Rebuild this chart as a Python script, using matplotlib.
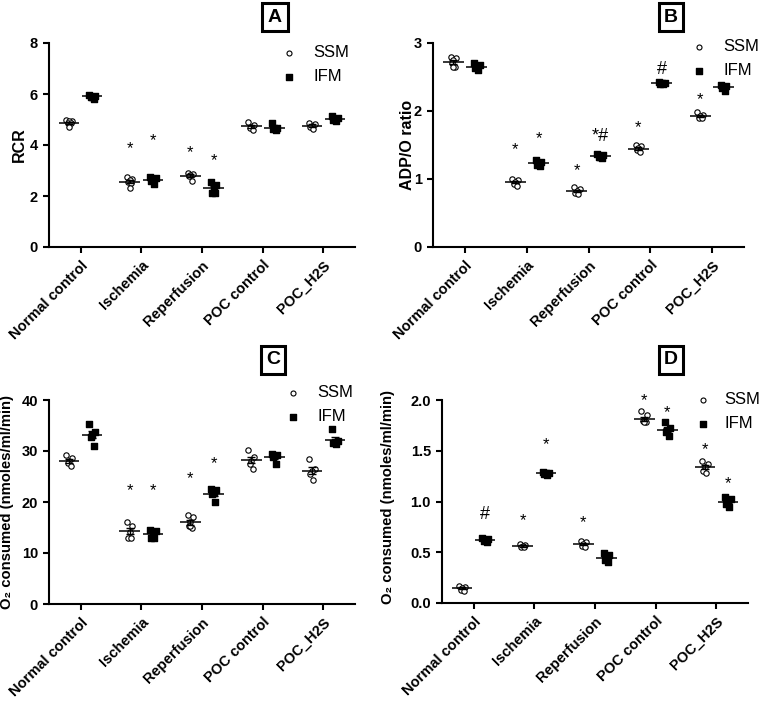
import numpy as np
import matplotlib
matplotlib.use('Agg')
import matplotlib.pyplot as plt

plt.rcParams['font.family'] = ['Liberation Sans', 'DejaVu Sans']

groups = ['Normal control', 'Ischemia', 'Reperfusion', 'POC control', 'POC_H2S']

# Panel A - RCR
rcr_ssm = [[4.97, 4.95, 4.93, 4.88, 4.85, 4.70],
           [2.76, 2.68, 2.62, 2.55, 2.50, 2.30],
           [2.90, 2.86, 2.82, 2.80, 2.60],
           [4.90, 4.78, 4.72, 4.65, 4.58],
           [4.88, 4.82, 4.76, 4.72, 4.62]]
rcr_ifm = [[5.98, 5.94, 5.90, 5.88, 5.82],
           [2.75, 2.70, 2.64, 2.58, 2.48],
           [2.55, 2.42, 2.35, 2.12, 2.10],
           [4.85, 4.68, 4.66, 4.64, 4.60],
           [5.12, 5.06, 5.02, 4.99, 4.96]]
rcr_star_ssm = [None, 3.87, 3.70, None, None]
rcr_star_ifm = [None, 4.17, 3.38, None, None]
rcr_hash_ifm = [None, None, None, None, None]

# Panel B - ADP/O ratio
adp_ssm = [[2.80, 2.78, 2.75, 2.70, 2.65, 2.64],
           [1.00, 0.98, 0.96, 0.93, 0.90],
           [0.88, 0.85, 0.82, 0.80, 0.78],
           [1.50, 1.48, 1.45, 1.42, 1.39],
           [1.98, 1.94, 1.92, 1.90, 1.89]]
adp_ifm = [[2.70, 2.68, 2.66, 2.63, 2.60],
           [1.28, 1.25, 1.22, 1.20, 1.19],
           [1.37, 1.35, 1.33, 1.32, 1.31],
           [2.42, 2.41, 2.41, 2.40, 2.40],
           [2.38, 2.37, 2.36, 2.34, 2.30]]
adp_star_ssm = [None, 1.43, 1.13, 1.75, 2.16]
adp_star_ifm = [None, 1.59, 1.62, None, None]
adp_hash_ifm = [None, None, 1.62, 2.61, None]

# Panel C - O2 consumed
o2c_ssm = [[29.2, 28.6, 28.0, 27.6, 27.0],
           [16.0, 15.2, 14.2, 13.0, 12.9],
           [17.5, 17.0, 16.0, 15.3, 15.0, 15.2],
           [30.1, 28.8, 28.0, 27.5, 26.5],
           [28.5, 26.5, 26.0, 25.5, 24.3]]
o2c_ifm = [[35.2, 33.8, 33.2, 32.8, 31.0],
           [14.6, 14.4, 13.4, 13.0, 12.9],
           [22.6, 22.3, 21.8, 21.5, 20.0],
           [29.4, 29.2, 29.0, 28.8, 27.5],
           [34.3, 32.0, 31.8, 31.6, 31.4]]
o2c_star_ssm = [None, 22.2, 24.6, None, None]
o2c_star_ifm = [None, 22.2, 27.5, None, None]
o2c_hash_ifm = [None, None, None, None, None]

# Panel D - O2 consumed
o2d_ssm = [[0.17, 0.16, 0.15, 0.13, 0.12],
           [0.58, 0.57, 0.56, 0.55, 0.55],
           [0.61, 0.60, 0.58, 0.56, 0.55],
           [1.89, 1.85, 1.80, 1.79, 1.78, 1.78],
           [1.40, 1.37, 1.34, 1.30, 1.28]]
o2d_ifm = [[0.64, 0.63, 0.62, 0.61, 0.60],
           [1.29, 1.28, 1.28, 1.27, 1.26],
           [0.49, 0.47, 0.45, 0.42, 0.40],
           [1.78, 1.72, 1.70, 1.68, 1.65],
           [1.04, 1.02, 1.00, 0.98, 0.95]]
o2d_star_ssm = [None, 0.81, 0.79, 1.99, 1.51]
o2d_star_ifm = [None, 1.56, None, 1.88, 1.18]
o2d_hash_ifm = [0.87, None, None, None, None]

jit = [-0.045, 0.045, 0.0, -0.025, 0.025, 0.0]
off = 0.19


def draw_group(ax, x, vals, marker):
    vals = np.array(vals)
    xs = x + np.array(jit[:len(vals)])
    if marker == 'o':
        ax.scatter(xs, vals, s=15, facecolors='white', edgecolors='black',
                   linewidths=0.8, marker='o', zorder=3, clip_on=False)
    else:
        ax.scatter(xs, vals, s=15, color='black', marker='s', zorder=3, clip_on=False)
    m = vals.mean()
    sem = vals.std(ddof=1) / np.sqrt(len(vals))
    ax.hlines(m, x - 0.17, x + 0.17, color='black', lw=1.1, zorder=4)
    ax.errorbar(x, m, yerr=sem, fmt='none', ecolor='black', elinewidth=1.0,
                capsize=3, capthick=1.0, zorder=4)


def panel(ax, ssm, ifm, star_s, star_i, hash_i, ylim, yticks, ylabel, fmt,
          letter, boxpos, legpos, labelxy, tpad=0.95, lsize=11.5):
    x = np.arange(len(groups))
    for i in range(len(groups)):
        draw_group(ax, x[i] - off, ssm[i], 'o')
        draw_group(ax, x[i] + off, ifm[i], 's')
        if star_s[i] is not None:
            ax.text(x[i] - off, star_s[i], '*', ha='center', va='center', fontsize=12)
        if star_i[i] is not None and hash_i[i] is not None:
            ax.text(x[i] + off, star_i[i], '*#', ha='center', va='center', fontsize=13)
        elif star_i[i] is not None:
            ax.text(x[i] + off, star_i[i], '*', ha='center', va='center', fontsize=12)
        elif hash_i[i] is not None:
            ax.text(x[i] + off, hash_i[i], '#', ha='center', va='center', fontsize=13)
    ax.scatter([], [], s=13, facecolors='white', edgecolors='black', linewidths=0.8,
               marker='o', label='SSM')
    ax.scatter([], [], s=13, color='black', marker='s', label='IFM')
    ax.legend(loc='upper left', bbox_to_anchor=legpos, bbox_transform=fig.transFigure,
              frameon=False, fontsize=12, handlelength=1.0, handletextpad=tpad,
              labelspacing=0.55, borderpad=0, borderaxespad=0)
    ax.set_xlim(-0.52, 4.52)
    ax.set_ylim(*ylim)
    ax.set_yticks(yticks)
    ax.set_yticklabels([fmt.format(t) for t in yticks], fontweight='bold', fontsize=10.5)
    ax.set_xticks(x)
    ax.set_xticklabels(groups, rotation=45, ha='right', rotation_mode='anchor',
                       fontweight='bold', fontsize=10.5)
    ax.set_ylabel(ylabel, fontweight='bold', fontsize=lsize)
    ax.yaxis.set_label_coords(*labelxy)
    for s in ['top', 'right']:
        ax.spines[s].set_visible(False)
    for s in ['left', 'bottom']:
        ax.spines[s].set_linewidth(1.5)
    ax.tick_params(width=1.5, length=4.5, direction='out')
    fig.text(boxpos[0], boxpos[1], letter, ha='center', va='center', fontsize=14,
             fontweight='bold',
             bbox=dict(boxstyle='square,pad=0.28', facecolor='white', edgecolor='black', lw=2.2))


fig = plt.figure(figsize=(7.61, 7.03), dpi=100)
W, H = 761, 703
axA = fig.add_axes([49 / W, 1 - 247 / H, 306 / W, 204 / H])
axB = fig.add_axes([433 / W, 1 - 247 / H, 311 / W, 204 / H])
axC = fig.add_axes([49 / W, 1 - 604 / H, 306 / W, 204 / H])
axD = fig.add_axes([442 / W, 1 - 603 / H, 306 / W, 203 / H])

panel(axA, rcr_ssm, rcr_ifm, rcr_star_ssm, rcr_star_ifm, rcr_hash_ifm,
      (0, 8), [0, 2, 4, 6, 8], 'RCR', '{:g}', 'A', (275 / W, 1 - 17 / H),
      (281 / W, 1 - 45 / H), (-0.072, 0.5))
panel(axB, adp_ssm, adp_ifm, adp_star_ssm, adp_star_ifm, adp_hash_ifm,
      (0, 3), [0, 1, 2, 3], 'ADP/O ratio', '{:g}', 'B', (671 / W, 1 - 17 / H),
      (691 / W, 1 - 39 / H), (-0.058, 0.5))
panel(axC, o2c_ssm, o2c_ifm, o2c_star_ssm, o2c_star_ifm, o2c_hash_ifm,
      (0, 40), [0, 10, 20, 30, 40], 'O\u2082 consumed (nmoles/ml/min)', '{:g}', 'C',
      (273 / W, 1 - 360 / H), (285 / W, 1 - 385 / H), (-0.115, 0.5), lsize=10.7)
panel(axD, o2d_ssm, o2d_ifm, o2d_star_ssm, o2d_star_ifm, o2d_hash_ifm,
      (0, 2.0), [0, 0.5, 1.0, 1.5, 2.0], 'O\u2082 consumed (nmoles/ml/min)', '{:.1f}', 'D',
      (671 / W, 1 - 360 / H), (695 / W, 1 - 392 / H), (-0.155, 0.52), tpad=0.75, lsize=10.7)

fig.savefig('out.png', dpi=100)
